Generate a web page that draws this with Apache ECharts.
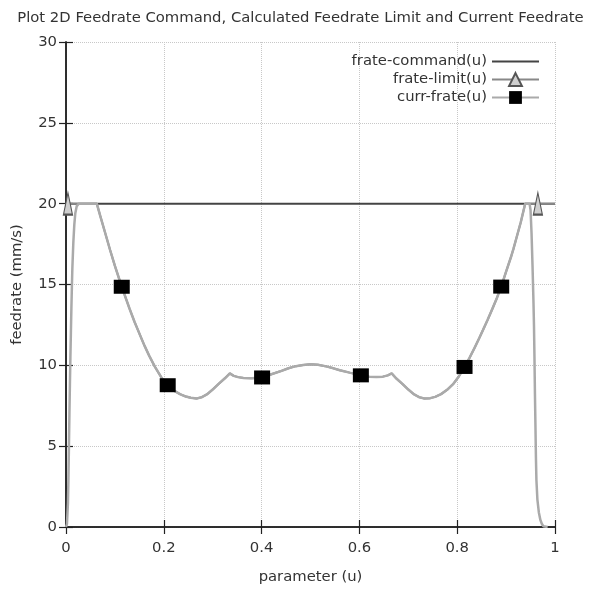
<!DOCTYPE html>
<html>
<head>
<meta charset="utf-8">
<script src="https://cdn.jsdelivr.net/npm/echarts@6/dist/echarts.min.js"></script>
<style>html,body{margin:0;padding:0;background:#fff}#c{width:601px;height:590px}</style>
</head>
<body>
<div id="c"></div>
<script>
const titleText = "Plot 2D Feedrate Command, Calculated Feedrate Limit and Current Feedrate";
const seriesNames = ["frate-command(u)", "frate-limit(u)", "curr-frate(u)"];
const xName = "parameter (u)";
const yName = "feedrate (mm/s)";

// frate-command
const commandU = [0, 1];
const commandV = [20, 20];

// shared middle part of the limit / current feedrate curve
const midU = [0.063, 0.07, 0.08, 0.09, 0.1, 0.114, 0.13, 0.14, 0.151, 0.16, 0.17, 0.182, 0.195, 0.208, 0.22, 0.233, 0.245, 0.255, 0.267, 0.277, 0.288, 0.3, 0.312, 0.325, 0.335, 0.343, 0.352, 0.363, 0.38, 0.401, 0.42, 0.438, 0.455, 0.47, 0.485, 0.5, 0.515, 0.53, 0.545, 0.56, 0.58, 0.603, 0.62, 0.635, 0.648, 0.658, 0.666, 0.675, 0.688, 0.7, 0.712, 0.723, 0.733, 0.745, 0.755, 0.767, 0.78, 0.792, 0.803, 0.815, 0.825, 0.835, 0.845, 0.853, 0.862, 0.872, 0.881, 0.89, 0.9, 0.91, 0.915, 0.92, 0.93, 0.939, 0.948];
const midV = [20, 19.25, 18.2, 17.15, 16.15, 14.86, 13.5, 12.7, 11.9, 11.25, 10.6, 9.9, 9.25, 8.77, 8.45, 8.22, 8.07, 7.99, 7.95, 8.02, 8.2, 8.5, 8.85, 9.2, 9.5, 9.35, 9.27, 9.22, 9.2, 9.25, 9.45, 9.63, 9.82, 9.95, 10.02, 10.06, 10.03, 9.95, 9.83, 9.7, 9.55, 9.38, 9.3, 9.28, 9.3, 9.38, 9.5, 9.2, 8.85, 8.5, 8.2, 8.02, 7.95, 7.97, 8.05, 8.22, 8.5, 8.85, 9.3, 9.9, 10.45, 11.05, 11.68, 12.2, 12.8, 13.5, 14.15, 14.87, 15.8, 16.7, 17.2, 17.75, 18.85, 20, 20];

// curr-frate ramps
const curStartU = [0, 0.002, 0.004, 0.005, 0.006, 0.007, 0.008, 0.009, 0.010, 0.011, 0.012, 0.013, 0.015, 0.017, 0.019, 0.022, 0.026, 0.03];
const curStartV = [0, 0.2, 1.5, 3, 5, 7, 8.8, 10.5, 12, 13.5, 14.8, 16, 17.6, 18.7, 19.4, 19.85, 20, 20];
const curEndU = [0.95, 0.952, 0.954, 0.956, 0.957, 0.958, 0.959, 0.96, 0.961, 0.962, 0.964, 0.967, 0.97, 0.973, 0.976, 0.985];
const curEndV = [19.6, 18.2, 16.2, 13.9, 12.5, 10.5, 8.2, 6.3, 4.3, 2.9, 1.7, 0.9, 0.45, 0.2, 0.05, 0];
const currMarkU = [0.114, 0.208, 0.401, 0.603, 0.815, 0.89];

// frate-limit ends
const limStartU = [0, 0.004, 0.03];
const limStartV = [20, 20, 20];
const limEndU = [0.965, 1];
const limEndV = [20, 20];
const limitMarkU = [0.004, 0.965];

function build(us, vs, marks) {
  return us.map((u, i) => marks.indexOf(u) >= 0 ? {value: [u, vs[i]]} : {value: [u, vs[i]], symbol: 'none'});
}
const currData = build(curStartU.concat(midU, curEndU), curStartV.concat(midV, curEndV), currMarkU);
const limitData = build(limStartU.concat(midU, limEndU), limStartV.concat(midV, limEndV), limitMarkU);
const commandData = commandU.map((u, i) => [u, commandV[i]]);

const FONT = 'DejaVu Sans';
const FS = 14.8;
const chart = echarts.init(document.getElementById('c'), null, {renderer: 'canvas'});
const axisLine = {show: true, lineStyle: {color: '#222', width: 1.5}};
const tick = {show: true, inside: true, length: 7, lineStyle: {color: '#222', width: 1.2}};
const grid = {show: true, lineStyle: {color: '#c8c8c8', type: 'dotted', width: 1}};
chart.setOption({
  animation: false,
  backgroundColor: '#fff',
  title: {text: titleText, left: 'center', top: 6, textStyle: {fontFamily: FONT, fontSize: FS, fontWeight: 'normal', color: '#333'}},
  grid: {left: 66, right: 46, top: 42, bottom: 61, containLabel: false},
  legend: {
    orient: 'vertical', right: 56, top: 49, align: 'right',
    itemWidth: 47, itemHeight: 16, itemGap: 3,
    textStyle: {fontFamily: FONT, fontSize: FS, color: '#333'},
    data: [
      {name: seriesNames[0], itemStyle: {color: 'rgba(0,0,0,0)', borderWidth: 0, opacity: 0}},
      seriesNames[1], seriesNames[2]
    ]
  },
  xAxis: [
    {type: 'value', min: 0, max: 1, interval: 0.2, position: 'bottom',
     name: xName, nameLocation: 'middle', nameGap: 43,
     nameTextStyle: {fontFamily: FONT, fontSize: FS, color: '#333'},
     axisLine, axisTick: tick, splitLine: grid,
     axisLabel: {fontFamily: FONT, fontSize: FS, color: '#333', margin: 14}},
    {type: 'value', min: 0, max: 1, interval: 0.2, position: 'top',
     axisLine, axisTick: tick, splitLine: {show: false}, axisLabel: {show: false}}
  ],
  yAxis: [
    {type: 'value', min: 0, max: 30, interval: 5, position: 'left',
     name: yName, nameLocation: 'middle', nameGap: 41,
     nameTextStyle: {fontFamily: FONT, fontSize: FS, color: '#333'},
     axisLine, axisTick: tick, splitLine: grid,
     axisLabel: {fontFamily: FONT, fontSize: FS, color: '#333', margin: 9}},
    {type: 'value', min: 0, max: 30, interval: 5, position: 'right',
     axisLine, axisTick: tick, splitLine: {show: false}, axisLabel: {show: false}}
  ],
  series: [
    {name: seriesNames[0], type: 'line', data: commandData, symbol: 'none', z: 2,
     lineStyle: {color: '#444', width: 2}, itemStyle: {color: '#444'}},
    {name: seriesNames[1], type: 'line', data: limitData, symbol: 'triangle', symbolSize: [9, 22],
     showAllSymbol: true, z: 3,
     lineStyle: {color: '#888', width: 2}, itemStyle: {color: '#cfcfcf', borderColor: '#555', borderWidth: 1.5}},
    {name: seriesNames[2], type: 'line', data: currData, symbol: 'rect', symbolSize: [16, 14],
     showAllSymbol: true, z: 4,
     lineStyle: {color: '#aaa', width: 2.5}, itemStyle: {color: '#000'}}
  ]
});
</script>
</body>
</html>
